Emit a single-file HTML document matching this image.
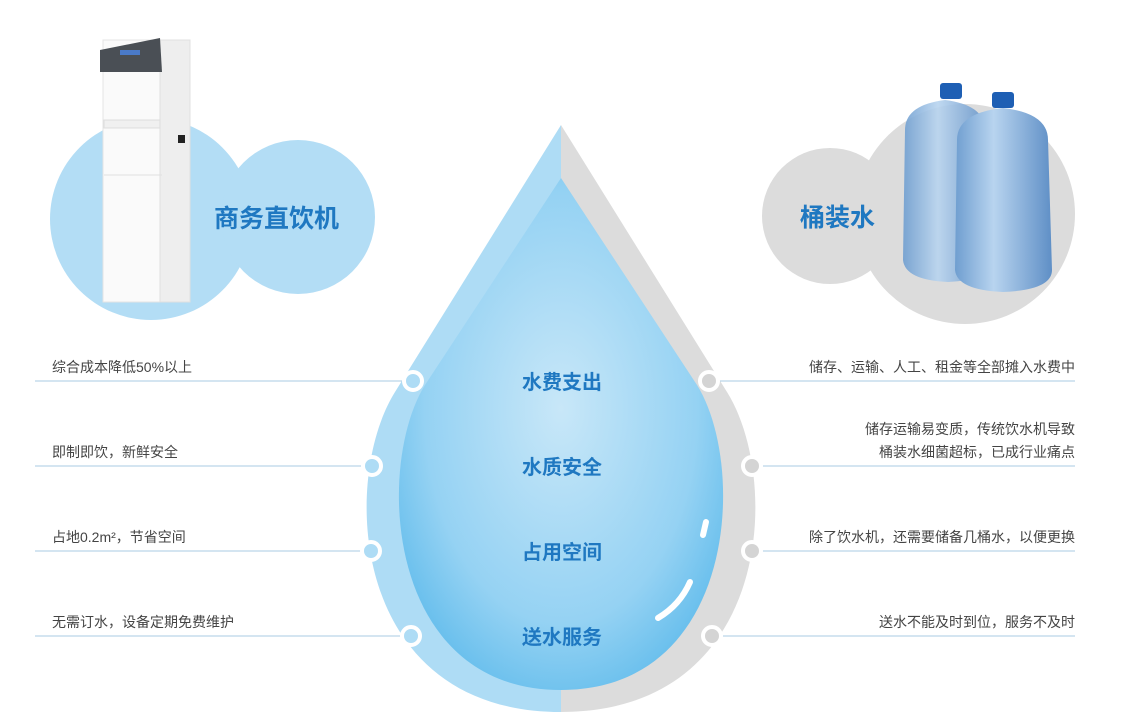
<!DOCTYPE html>
<html><head><meta charset="utf-8"><style>
body{margin:0;width:1130px;height:724px;background:#fff;overflow:hidden;font-family:"Liberation Sans","Noto Sans CJK SC",sans-serif}
svg{position:absolute;left:0;top:0}
</style></head><body>
<svg width="1130" height="724" viewBox="0 0 1130 724" font-family="Liberation Sans, Noto Sans CJK SC, sans-serif">
<defs>
<radialGradient id="ig" cx="0.5" cy="0.45" r="0.6">
<stop offset="0" stop-color="#c8e7f8"/><stop offset="0.7" stop-color="#95d2f3"/><stop offset="1" stop-color="#64bdec"/>
</radialGradient>
<linearGradient id="bt" x1="0" x2="1"><stop offset="0" stop-color="#6f9ed0"/><stop offset="0.4" stop-color="#b8d4ef"/><stop offset="1" stop-color="#5f8fc6"/></linearGradient>
<clipPath id="lh"><rect x="0" y="0" width="561" height="724"/></clipPath>
<clipPath id="rh"><rect x="561" y="0" width="600" height="724"/></clipPath>
</defs>
<circle cx="151" cy="219" r="101" fill="#b3ddf5"/>
<circle cx="298" cy="217" r="77" fill="#b3ddf5"/>
<rect x="103" y="40" width="60" height="262" fill="#fafafa" stroke="#e4e4e4"/>
<rect x="160" y="40" width="30" height="262" fill="#eeeeee" stroke="#e0e0e0"/>
<path d="M100 50 L160 38 L162 72 L100 72 Z" fill="#4a4f55"/>
<rect x="120" y="50" width="20" height="5" fill="#4a7ac8"/>
<rect x="104" y="120" width="56" height="8" fill="#f0f0f0" stroke="#dddddd"/>
<line x1="104" y1="175" x2="162" y2="175" stroke="#e0e0e0"/>
<rect x="178" y="135" width="7" height="8" fill="#222"/>
<text x="214" y="227" font-size="25" font-weight="bold" fill="#1f78c1">商务直饮机</text>
<circle cx="830" cy="216" r="68" fill="#dcdcdc"/>
<circle cx="965" cy="214" r="110" fill="#dcdcdc"/>
<text x="800" y="226" font-size="25" font-weight="bold" fill="#1f78c1">桶装水</text>
<g>
<rect x="940" y="83" width="22" height="16" rx="3" fill="#1e5fb4"/>
<path d="M905 130 Q905 105 945 100 Q985 105 985 130 L990 260 Q990 280 948 282 Q905 280 903 260 Z" fill="url(#bt)" opacity="0.9"/>
<rect x="992" y="92" width="22" height="16" rx="3" fill="#1e5fb4"/>
<path d="M957 140 Q957 113 1003 108 Q1048 113 1048 140 L1052 270 Q1052 290 1003 292 Q957 290 955 270 Z" fill="url(#bt)"/>
</g>
<g clip-path="url(#lh)"><path d="M561 125 L395 392 C340 480 350 712 561 712 C772 712 782 480 727 392 Z" fill="#aedcf5"/></g>
<g clip-path="url(#rh)"><path d="M561 125 L395 392 C340 480 350 712 561 712 C772 712 782 480 727 392 Z" fill="#dcdcdc"/></g>
<path d="M561 178 L425 385 C375 465 385 690 561 690 C737 690 747 465 697 385 Z" fill="url(#ig)"/>
<path d="M706 522 L703 535" stroke="#fff" stroke-width="6" stroke-linecap="round"/>
<path d="M690 582 Q680 605 658 618" stroke="#fff" stroke-width="6" fill="none" stroke-linecap="round"/>
<g font-size="20" font-weight="bold" fill="#1f78c1" text-anchor="middle">
<text x="562" y="389">水费支出</text><text x="562" y="474">水质安全</text><text x="562" y="559">占用空间</text><text x="562" y="644">送水服务</text>
</g>
<g stroke="#a9cbe3" stroke-width="1">
<line x1="35" y1="381" x2="405" y2="381"/><line x1="35" y1="466" x2="362" y2="466"/>
<line x1="35" y1="551" x2="362" y2="551"/><line x1="35" y1="636" x2="402" y2="636"/>
<line x1="720" y1="381" x2="1075" y2="381"/><line x1="762" y1="466" x2="1075" y2="466"/>
<line x1="762" y1="551" x2="1075" y2="551"/><line x1="722" y1="636" x2="1075" y2="636"/>
</g>
<g stroke="#fff" stroke-width="4">
<circle cx="413" cy="381" r="9" fill="#aedcf5"/><circle cx="372" cy="466" r="9" fill="#aedcf5"/>
<circle cx="371" cy="551" r="9" fill="#aedcf5"/><circle cx="411" cy="636" r="9" fill="#aedcf5"/>
<circle cx="709" cy="381" r="9" fill="#d4d4d4"/><circle cx="752" cy="466" r="9" fill="#d4d4d4"/>
<circle cx="752" cy="551" r="9" fill="#d4d4d4"/><circle cx="712" cy="636" r="9" fill="#d4d4d4"/>
</g>
<g font-size="14" fill="#444">
<text x="52" y="372">综合成本降低50%以上</text>
<text x="52" y="457">即制即饮，新鲜安全</text>
<text x="52" y="542">占地0.2m²，节省空间</text>
<text x="52" y="627">无需订水，设备定期免费维护</text>
</g>
<g font-size="14" fill="#444" text-anchor="end">
<text x="1075" y="372">储存、运输、人工、租金等全部摊入水费中</text>
<text x="1075" y="434">储存运输易变质，传统饮水机导致</text>
<text x="1075" y="457">桶装水细菌超标，已成行业痛点</text>
<text x="1075" y="542">除了饮水机，还需要储备几桶水，以便更换</text>
<text x="1075" y="627">送水不能及时到位，服务不及时</text>
</g>
</svg>
</body></html>
